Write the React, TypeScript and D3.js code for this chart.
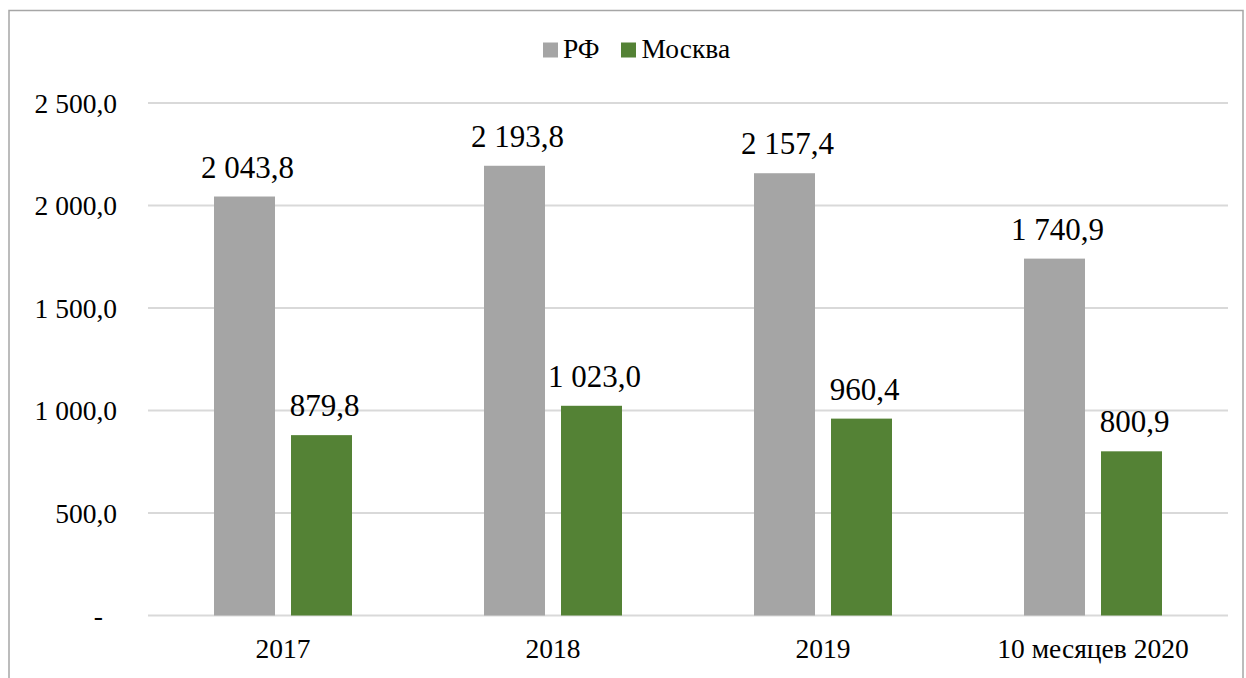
import * as d3 from "d3";

const categories = ["2017", "2018", "2019", "10 месяцев 2020"];
const seriesNames = ["РФ", "Москва"];
const rfValues = [2043.8, 2193.8, 2157.4, 1740.9];
const moscowValues = [879.8, 1023.0, 960.4, 800.9];
const yTicks = [0, 500, 1000, 1500, 2000, 2500];
const colors = ["#a5a5a5", "#548235"];

const W = 1246;
const H = 678;
const plot = { left: 148, right: 1228, top: 103, bottom: 615.5 };

const ru = d3.formatLocale({ decimal: ",", thousands: " ", grouping: [3], currency: ["", ""] });
const fmt = ru.format(",.1f");
const tickFmt = (v: number) => (v === 0 ? "-" : fmt(v));

const serif = { fontFamily: "Liberation Serif, serif" };
const axisSize = 27.5;

export default function App() {
  const x = d3.scaleBand<string>().domain(categories).range([plot.left, plot.right]).padding(0);
  const y = d3.scaleLinear().domain([0, 2500]).range([plot.bottom, plot.top]);
  const barW = 61;
  const gap = 16;
  const series = [rfValues, moscowValues];

  return (
    <svg width={W} height={H} style={{ position: "absolute", left: 0, top: 0, background: "#fff" }}>
      <rect x={9} y={10.5} width={1234} height={700} fill="#fff" stroke="#a6a6a6" strokeWidth={1.5} />

      {/* gridlines and y labels */}
      {yTicks.map((t) => (
        <g key={t}>
          <line x1={plot.left} x2={plot.right} y1={y(t)} y2={y(t)} stroke="#d9d9d9" strokeWidth={2} />
          <text
            x={t === 0 ? 103 : 117}
            y={y(t)}
            dy="0.35em"
            textAnchor="end"
            fontSize={axisSize}
            fill="#000"
            style={serif}
          >
            {tickFmt(t)}
          </text>
        </g>
      ))}

      {/* bars */}
      {categories.map((c, i) => {
        const cx = (x(c) as number) + x.bandwidth() / 2;
        return series.map((vals, s) => {
          const bx = s === 0 ? cx - gap / 2 - barW : cx + gap / 2;
          return (
            <g key={c + s}>
              <rect x={bx} y={y(vals[i])} width={barW} height={y(0) - y(vals[i])} fill={colors[s]} />
              <text
                x={bx + barW / 2 + 3}
                y={y(vals[i]) - 19}
                textAnchor="middle"
                fontSize={31}
                fill="#000"
                style={serif}
              >
                {fmt(vals[i])}
              </text>
            </g>
          );
        });
      })}

      {/* x labels */}
      {categories.map((c) => (
        <text
          key={c}
          x={(x(c) as number) + x.bandwidth() / 2}
          y={658}
          textAnchor="middle"
          fontSize={axisSize}
          fill="#000"
          style={serif}
        >
          {c}
        </text>
      ))}

      {/* legend */}
      <g>
        <rect x={543} y={42.5} width={15} height={15} fill={colors[0]} />
        <text x={563} y={58} fontSize={axisSize} fill="#000" style={serif}>{seriesNames[0]}</text>
        <rect x={621} y={42.5} width={15} height={15} fill={colors[1]} />
        <text x={641.5} y={58} fontSize={axisSize} fill="#000" style={serif}>{seriesNames[1]}</text>
      </g>
    </svg>
  );
}
